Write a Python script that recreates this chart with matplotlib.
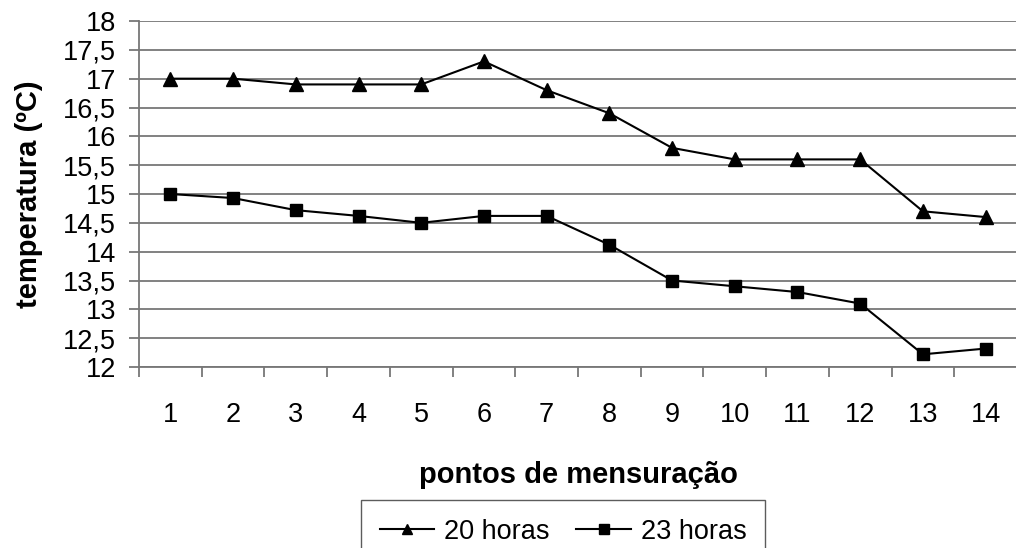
import matplotlib
matplotlib.use("Agg")
import matplotlib.pyplot as plt
import numpy as np

pontos = list(range(1, 15))
horas20 = [17.0, 17.0, 16.9, 16.9, 16.9, 17.3, 16.8, 16.4, 15.8, 15.6, 15.6, 15.6, 14.7, 14.6]
horas23 = [15.0, 14.93, 14.72, 14.62, 14.5, 14.62, 14.62, 14.12, 13.5, 13.4, 13.3, 13.1, 12.22, 12.32]
yticks = [12, 12.5, 13, 13.5, 14, 14.5, 15, 15.5, 16, 16.5, 17, 17.5, 18]
ytick_labels = [f"{v:g}".replace(".", ",") for v in yticks]

plt.rcParams['font.family'] = ['Liberation Sans', 'DejaVu Sans']

W, H = 1016, 548
fig = plt.figure(figsize=(W/100, H/100), dpi=100)
L, R, T, B = 139, 1017, 21, 367
ax = fig.add_axes([L/W, 1-B/H, (R-L)/W, (B-T)/H])

x = np.array(pontos)
ax.plot(x, horas20, color='black', lw=1.5, marker='^', markersize=9.5, label='20 horas', clip_on=False)
ax.plot(x, horas23, color='black', lw=1.5, marker='s', markersize=8, label='23 horas', clip_on=False)

ax.set_xlim(0.5, 14.5)
ax.set_ylim(12, 18)
ax.set_yticks(yticks)
ax.set_yticklabels(ytick_labels, fontsize=19.5)
ax.yaxis.grid(True, color='#777777', lw=1.3)
ax.set_axisbelow(True)

ax.set_xticks(np.arange(0.5, 15, 1))
ax.set_xticklabels([])
ax.set_xticks(x, minor=True)
ax.set_xticklabels([str(p) for p in pontos], minor=True, fontsize=19.5)
ax.tick_params(axis='x', which='major', length=7.2, width=1.3, color='#777777', direction='out')
ax.tick_params(axis='x', which='minor', length=0, pad=25)
ax.tick_params(axis='y', length=7.2, width=1.3, color='#777777', pad=9.4)

for s in ['top', 'right']:
    ax.spines[s].set_visible(False)
for s in ['left', 'bottom']:
    ax.spines[s].set_color('#777777')
    ax.spines[s].set_linewidth(1.3)

ax.set_xlabel('pontos de mensuração', fontsize=21, fontweight='bold', labelpad=24)
ax.set_ylabel('temperatura (ºC)', fontsize=21, fontweight='bold', labelpad=14)

leg = fig.legend(loc='upper center', bbox_to_anchor=(563/W, 1-500/H), ncol=2,
                 fontsize=19.5, frameon=True, fancybox=False, edgecolor='#333333',
                 handlelength=2.0, columnspacing=1.0, handletextpad=0.37,
                 borderpad=0.7, borderaxespad=0)
leg.get_frame().set_linewidth(1.0)
for h in leg.legend_handles:
    h.set_markersize(7)

fig.savefig('out.png', dpi=100)
